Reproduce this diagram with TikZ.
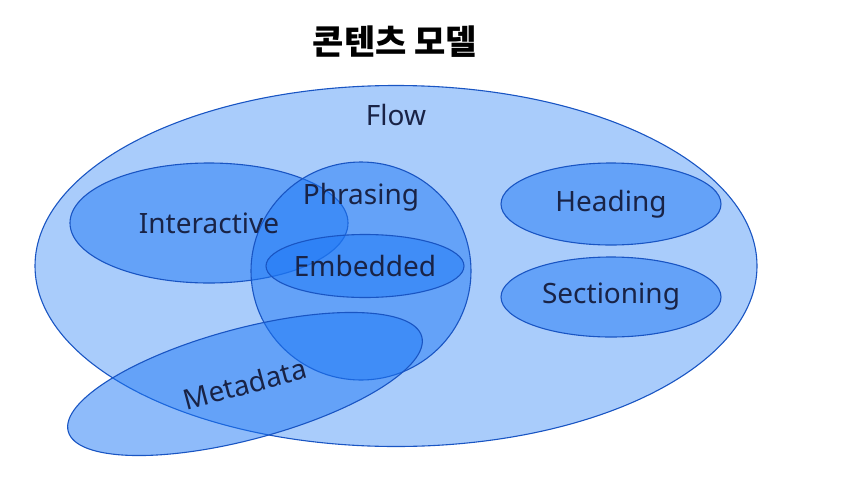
\documentclass[tikz,border=0pt]{standalone}
\usepackage{fontspec}
\setmainfont{Noto Sans}
\newfontfamily\cjk{Noto Sans CJK KR}
\usetikzlibrary{shapes.geometric,positioning}

\definecolor{setfill}{RGB}{30,120,245}
\definecolor{setline}{RGB}{25,85,195}
\definecolor{settext}{RGB}{25,35,70}

\tikzset{
  every set/.style={ellipse, draw=setline, line width=1.1pt, fill=setfill,
    fill opacity=0.5, inner sep=0pt},
  set label/.style={text=settext, font=\fontsize{28}{32}\selectfont},
}

\begin{document}
\begin{tikzpicture}[x=1pt, y=-1pt]
\useasboundingbox (0,0) rectangle (851,493);

% Title
\node [font=\cjk\bfseries\fontsize{34}{40}\selectfont] (title) at (395,42) {콘텐츠 모델};

% Draw the sets
\node [every set, fill opacity=0.38, minimum width=722pt, minimum height=361pt] (flow) at (396,266) {};
\node [every set, minimum width=278pt, minimum height=120pt] (inter) at (209,223) {};
\node [every set, minimum width=220pt, minimum height=218pt] (phrasing) at (361,271) {};
\node [every set, minimum width=198pt, minimum height=63pt] (embedded) at (365,266) {};
\node [every set, minimum width=220pt, minimum height=82pt] (heading) at (611,204) {};
\node [every set, minimum width=220pt, minimum height=80pt] (sectioning) at (611,297) {};
\node [every set, rotate=15, minimum width=366pt, minimum height=111pt] (meta) at (245,384) {};

% Label the sets
\node [set label, below=16pt of flow.north] (flow-label) {Flow};
\node [set label, below=18pt of phrasing.north] (phrasing-label) {Phrasing};
\node [set label] (inter-label) at (inter) {Interactive};
\node [set label] (embedded-label) at (embedded) {Embedded};
\node [set label] (heading-label) at (heading) {Heading};
\node [set label] (sectioning-label) at (sectioning) {Sectioning};
\node [set label, rotate=15] (meta-label) at (meta) {Metadata};
\end{tikzpicture}
\end{document}
